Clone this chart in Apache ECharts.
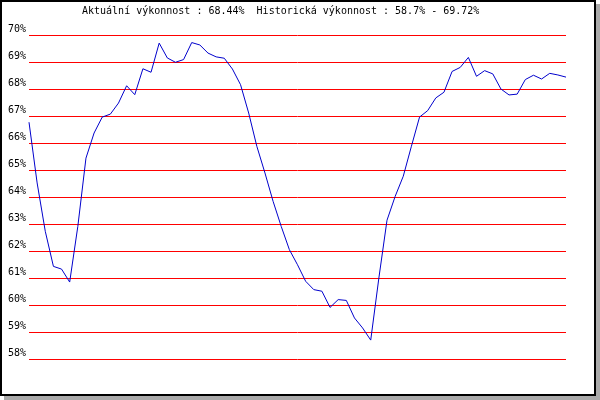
<!DOCTYPE html>
<html>
<head>
    <meta charset="UTF-8">
    <title>Výkonnost</title>
    <style type="text/css">
        body {
            margin: 0;
            background-color: white;
        }
        #frame {
            position: absolute;
            left: 0;
            top: 0;
            width: 592px;
            height: 392px;
            border: 2px solid black;
            box-shadow: 4px 4px 0 #aaaaaa;
            background-color: white;
        }
        #chart {
            position: absolute;
            left: 0;
            top: 0;
            width: 600px;
            height: 400px;
        }
    </style>
    <script type="text/javascript" src="https://cdn.jsdelivr.net/npm/echarts@6/dist/echarts.min.js"></script>
</head>
<body>
<div id="frame"></div>
<div id="chart"></div>
<script>
    // hodnoty vykonnosti v %, jedna za kazdy bod
    let perf_list = [
        66.77, 64.52, 62.73, 61.43, 61.33, 60.85, 62.91, 65.44, 66.37, 66.96,
        67.07, 67.48, 68.12, 67.79, 68.75, 68.62, 69.70, 69.15, 68.99, 69.09,
        69.72, 69.63, 69.33, 69.19, 69.14, 68.74, 68.16, 67.11, 65.88, 64.89,
        63.84, 62.91, 62.05, 61.49, 60.88, 60.57, 60.51, 59.91, 60.20, 60.17,
        59.52, 59.15, 58.70, 61.00, 63.14, 64.02, 64.77, 65.88, 66.96, 67.20,
        67.67, 67.88, 68.65, 68.80, 69.17, 68.47, 68.68, 68.56, 68.00, 67.78,
        67.81, 68.35, 68.51, 68.37, 68.58, 68.52, 68.44
    ];
    let point_list = perf_list.map((v, i) => String(i + 1));
    let current_perf = '68.44';
    let hist_min = '58.7';
    let hist_max = '69.72';
    let y_min = 58, y_max = 70, y_step = 1;

    let font = '"DejaVu Sans Mono", "Liberation Mono", monospace';
    let myChart = echarts.init(document.getElementById('chart'));

    myChart.setOption({
        animation: false,
        backgroundColor: 'transparent',
        title: {
            text: 'Aktuální výkonnost : ' + current_perf + '%  Historická výkonnost : ' + hist_min + '% - ' + hist_max + '%',
            left: 82,
            top: 6,
            padding: 0,
            textStyle: {
                fontFamily: font,
                fontSize: 10,
                fontWeight: 'normal',
                color: '#000'
            }
        },
        grid: {
            left: 29,
            right: 34,
            top: 35,
            bottom: 41
        },
        xAxis: {
            type: 'category',
            boundaryGap: false,
            data: point_list,
            axisLine: {show: false},
            axisTick: {show: false},
            axisLabel: {show: false},
            splitLine: {show: false}
        },
        yAxis: {
            type: 'value',
            min: y_min,
            max: y_max,
            interval: y_step,
            axisLine: {show: false},
            axisTick: {show: false},
            axisLabel: {
                formatter: '{value}%',
                fontFamily: font,
                fontSize: 10,
                color: '#000',
                margin: 3,
                verticalAlign: 'bottom',
                lineHeight: 12
            },
            splitLine: {
                show: true,
                lineStyle: {color: '#ff0000', width: 1}
            }
        },
        series: [
            {
                type: 'line',
                data: perf_list,
                symbol: 'none',
                lineStyle: {color: '#0000cc', width: 1}
            }
        ]
    });
</script>
</body>
</html>
